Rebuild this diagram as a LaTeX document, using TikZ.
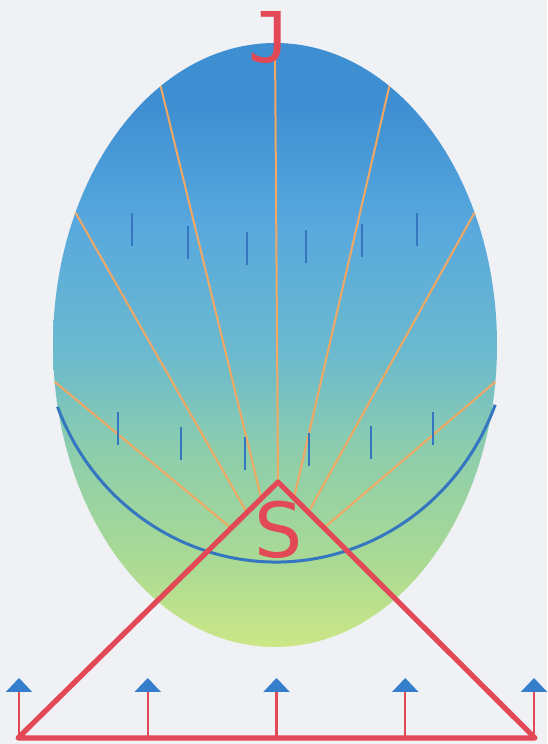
\documentclass[tikz,border=0pt]{standalone}
\usepackage{fontspec}
\newfontfamily\letterfont{DejaVu Sans}
\newfontfamily\capfont{DejaVu Sans Mono}
\usetikzlibrary{arrows.meta,calc,intersections}

\definecolor{paper}{RGB}{239,241,245}
\definecolor{signred}{RGB}{226,72,86}
\definecolor{rayorange}{RGB}{242,168,98}
\definecolor{markblue}{RGB}{52,118,192}
\definecolor{headblue}{RGB}{52,126,204}
\definecolor{eggtop}{RGB}{62,142,210}
\definecolor{eggsky}{RGB}{88,168,222}
\definecolor{eggteal}{RGB}{108,186,205}
\definecolor{eggmint}{RGB}{142,206,172}
\definecolor{egglime}{RGB}{170,218,148}
\definecolor{eggbottom}{RGB}{204,231,134}

\pgfdeclareverticalshading{eggshade}{100bp}{color(0bp)=(eggbottom); color(25bp)=(eggbottom);
  color(32bp)=(egglime); color(41bp)=(eggmint); color(49bp)=(eggteal);
  color(60bp)=(eggsky); color(70bp)=(eggtop); color(75bp)=(eggtop); color(100bp)=(eggtop)}

\begin{document}
\begin{tikzpicture}[x=0.5pt, y=0.5pt,
    redline/.style={draw=signred, line width=2.6pt, line join=round},
    ray/.style={draw=rayorange, line width=1pt},
    scalemark/.style={draw=markblue, line width=1.2pt},
    arcline/.style={draw=markblue, line width=1.5pt},
    stem/.style={draw=signred, line width=1.1pt, -{Triangle[width=13pt, length=7pt, color=headblue]}},
    letter/.style={text=signred, inner sep=0pt}
]
    \fill[paper] (0,0) rectangle (547,744);
    \useasboundingbox (0,0) rectangle (547,744);

    % egg
    \coordinate (eggc) at (275,399);
    \shade[shading=eggshade] (eggc) ellipse [x radius=222, y radius=302];

    % rays from the focus, cut at the triangle
    \coordinate (focus) at (278,177);
    \coordinate (apex) at (278,262);
    \coordinate (baseL) at (18,6);
    \coordinate (baseR) at (535,6);
    \path[name path=leftedge] (apex) -- (baseL);
    \path[name path=rightedge] (apex) -- (baseR);
    \foreach \t [count=\i] in {187,154,121,90,59,26,-7}
        \coordinate (rim\i) at ($(eggc)+(\t:222 and 302)$);
    \foreach \i in {1,2,3} {
        \path[name path=beam] (focus) -- (rim\i);
        \draw[ray, name intersections={of=beam and leftedge}] (intersection-1) -- (rim\i);
    }
    \draw[ray] (apex) -- (rim4);
    \foreach \i in {5,6,7} {
        \path[name path=beam] (focus) -- (rim\i);
        \draw[ray, name intersections={of=beam and rightedge}] (intersection-1) -- (rim\i);
    }

    % scale marks
    \foreach \x/\y in {132/531, 188/518, 247/512, 306/514, 362/520, 417/531,
                       118/332, 181/317, 245/307, 309/311, 371/318, 433/332}
        \draw[scalemark] (\x,\y) -- ++(0,-33);

    \coordinate (arcc) at (276,424);
    \draw[arcline] ($(arcc)+(201:234 and 242)$)
        arc [start angle=201, end angle=339.5, x radius=234, y radius=242];

    % arrows on the base
    \foreach \x [count=\i] in {19,147.75,276.5,405.25,534} {
        \coordinate (foot\i) at (\x,6);
        \coordinate (tip\i) at (\x,66);
        \draw[stem] (foot\i) -- (tip\i);
    }

    \draw[redline] (apex) -- (baseR) -- (baseL) -- cycle;

    \node[letter, font=\capfont\fontsize{35}{35}\selectfont] (jay) at (270,706.5) {J};
    \node[letter, font=\letterfont\fontsize{38}{38}\selectfont] (ess) at (278.5,214) {S};
\end{tikzpicture}
\end{document}
